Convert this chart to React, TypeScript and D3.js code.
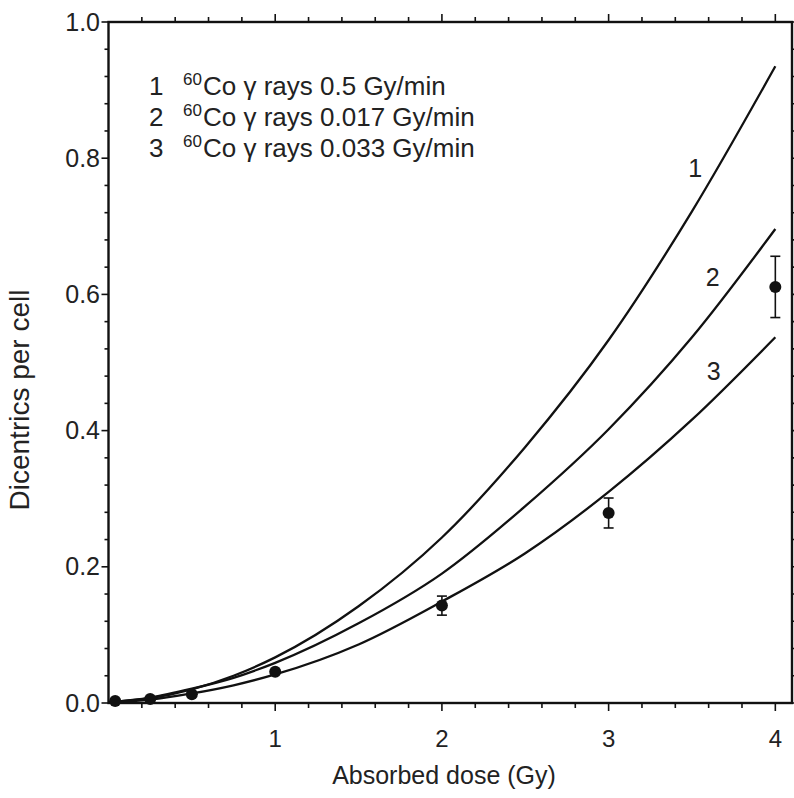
import React from "react";
import * as d3 from "d3";

// ---- data ----
const curveDoses = [0, 0.25, 0.5, 0.75, 1, 1.5, 2, 2.5, 3, 3.5, 4];
const curve1 = [0.001, 0.007, 0.02, 0.04, 0.067, 0.142, 0.243, 0.376, 0.533, 0.722, 0.935];
const curve2 = [0.001, 0.008, 0.021, 0.037, 0.059, 0.117, 0.19, 0.289, 0.402, 0.537, 0.696];
const curve3 = [0.001, 0.005, 0.014, 0.026, 0.042, 0.086, 0.149, 0.22, 0.31, 0.416, 0.537];
const curveNames = ["1", "2", "3"];
const curveLabelPos = [
  { d: 3.52, v: 0.785 },
  { d: 3.625, v: 0.625 },
  { d: 3.63, v: 0.488 },
];

const pointDoses = [0.04, 0.25, 0.5, 1, 2, 3, 4];
const pointValues = [0.003, 0.006, 0.013, 0.046, 0.143, 0.279, 0.611];
const pointErrors = [0, 0, 0, 0, 0.014, 0.022, 0.045];

const legendNumbers = ["1", "2", "3"];
const legendRates = ["0.5 Gy/min", "0.017 Gy/min", "0.033 Gy/min"];

const xMajorTicks = [1, 2, 3, 4];
const yMajorTicks = [0, 0.2, 0.4, 0.6, 0.8, 1.0];

const xTitle = "Absorbed dose (Gy)";
const yTitle = "Dicentrics per cell";

const W = 794;
const H = 798;
const FONT = "'Liberation Sans', Arial, sans-serif";

export default function App() {
  const x = d3.scaleLinear().domain([0, 4.1]).range([108.5, 792]);
  const y = d3.scaleLinear().domain([0, 1]).range([703, 22]);
  const left = x(0);
  const right = x(4.1);
  const top = y(1);
  const bottom = y(0);

  const line = d3
    .line<[number, number]>()
    .x((d) => x(d[0]))
    .y((d) => y(d[1]))
    .curve(d3.curveMonotoneX);

  const curves = [curve1, curve2, curve3].map((vals) =>
    line(curveDoses.map((d, i) => [d, vals[i]] as [number, number]))
  );

  const xMinor = d3.range(1, 21).map((i) => i * 0.2);
  const yMinor = d3.range(0, 26).map((i) => i * 0.04);

  return (
    <div style={{ position: "absolute", left: 0, top: 0 }}>
      <svg width={W} height={H} style={{ display: "block", background: "#fff" }} fontFamily={FONT}>
        <rect x={0} y={0} width={W} height={H} fill="#fff" />
        {/* ticks bottom / top */}
        {xMinor.map((t, i) => {
          const major = Math.abs(t - Math.round(t)) < 1e-6;
          const len = major ? 8 : 5;
          return (
            <g key={"xt" + i} stroke="#111" strokeWidth={1.6}>
              <line x1={x(t)} x2={x(t)} y1={bottom} y2={bottom + len} />
              <line x1={x(t)} x2={x(t)} y1={top} y2={top - len} />
            </g>
          );
        })}
        {yMinor.map((t, i) => {
          const major = Math.abs(t * 5 - Math.round(t * 5)) < 1e-6;
          const len = major ? 7 : 4;
          return (
            <g key={"yt" + i} stroke="#111" strokeWidth={1.6}>
              <line x1={left} x2={left - len} y1={y(t)} y2={y(t)} />
              <line x1={right} x2={right + len} y1={y(t)} y2={y(t)} />
            </g>
          );
        })}
        {/* frame */}
        <rect
          x={left}
          y={top}
          width={right - left}
          height={bottom - top}
          fill="none"
          stroke="#111"
          strokeWidth={2.4}
        />
        {/* tick labels */}
        {xMajorTicks.map((t) => (
          <text key={"xl" + t} x={x(t)} y={747} textAnchor="middle" fontSize={24} fill="#222">
            {d3.format("d")(t)}
          </text>
        ))}
        {yMajorTicks.map((t) => (
          <text key={"yl" + t} x={100} y={y(t) + 8.5} textAnchor="end" fontSize={25} fill="#222">
            {d3.format(".1f")(t)}
          </text>
        ))}
        {/* axis titles */}
        <text x={444} y={784} textAnchor="middle" fontSize={25} fill="#222">
          {xTitle}
        </text>
        <text
          transform={`translate(29,400) rotate(-90)`}
          textAnchor="middle"
          fontSize={28}
          fill="#222"
        >
          {yTitle}
        </text>
        {/* curves */}
        {curves.map((p, i) => (
          <path key={"c" + i} d={p || ""} fill="none" stroke="#111" strokeWidth={2.3} />
        ))}
        {/* curve labels */}
        {curveNames.map((n, i) => (
          <text
            key={"cn" + i}
            x={x(curveLabelPos[i].d)}
            y={y(curveLabelPos[i].v) + 9}
            textAnchor="middle"
            fontSize={25}
            fill="#222"
          >
            {n}
          </text>
        ))}
        {/* error bars */}
        {pointDoses.map((d, i) =>
          pointErrors[i] > 0 ? (
            <g key={"e" + i} stroke="#111" strokeWidth={1.6}>
              <line x1={x(d)} x2={x(d)} y1={y(pointValues[i] - pointErrors[i])} y2={y(pointValues[i] + pointErrors[i])} />
              <line x1={x(d) - 5} x2={x(d) + 5} y1={y(pointValues[i] - pointErrors[i])} y2={y(pointValues[i] - pointErrors[i])} />
              <line x1={x(d) - 5} x2={x(d) + 5} y1={y(pointValues[i] + pointErrors[i])} y2={y(pointValues[i] + pointErrors[i])} />
            </g>
          ) : null
        )}
        {/* points */}
        {pointDoses.map((d, i) => (
          <circle key={"p" + i} cx={x(d)} cy={y(pointValues[i])} r={6} fill="#111" />
        ))}
        {/* legend */}
        {legendNumbers.map((n, i) => {
          const base = 95 + i * 31;
          return (
            <text key={"lg" + i} y={base} fontSize={26} fill="#222">
              <tspan x={149}>{n}</tspan>
              <tspan x={183} dy={-10} fontSize={17}>60</tspan>
              <tspan x={203} dy={10}>{`Co \u03b3 rays ${legendRates[i]}`}</tspan>
            </text>
          );
        })}
      </svg>
    </div>
  );
}
